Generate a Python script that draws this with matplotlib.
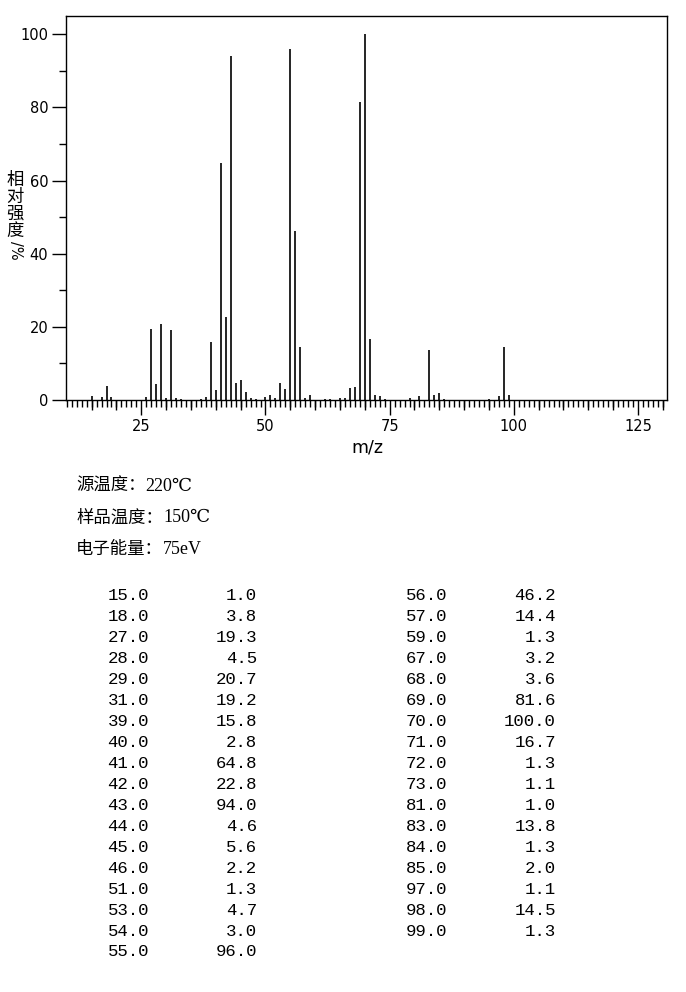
import matplotlib
matplotlib.use("Agg")
import matplotlib.pyplot as plt
from matplotlib.ticker import FixedLocator, MultipleLocator

# ---- data ----
table_mz = [15, 18, 27, 28, 29, 31, 39, 40, 41, 42, 43, 44, 45, 46, 51, 53, 54, 55,
            56, 57, 59, 67, 68, 69, 70, 71, 72, 73, 81, 83, 84, 85, 97, 98, 99]
table_int = [1.0, 3.8, 19.3, 4.5, 20.7, 19.2, 15.8, 2.8, 64.8, 22.8, 94.0, 4.6, 5.6, 2.2,
             1.3, 4.7, 3.0, 96.0, 46.2, 14.4, 1.3, 3.2, 3.6, 81.6, 100.0, 16.7, 1.3, 1.1,
             1.0, 13.8, 1.3, 2.0, 1.1, 14.5, 1.3]
# small peaks (<1 %) visible in the spectrum but not listed
minor_mz = [17, 19, 26, 30, 32, 33, 37, 38, 47, 48, 50, 52, 58, 62, 63, 65, 66, 74, 79, 86, 95]
minor_int = [0.7, 0.8, 0.8, 0.5, 0.5, 0.3, 0.3, 0.8, 0.5, 0.2, 0.7, 0.6, 0.6, 0.3, 0.4,
             0.6, 0.5, 0.3, 0.5, 0.4, 0.4]

x_ticks = [25, 50, 75, 100, 125]
y_ticks = [0, 20, 40, 60, 80, 100]

info_labels = ["源温度：", "样品温度：", "电子能量："]
info_values = ["220℃", "150℃", "75eV"]

ylabel_chars = ["相", "对", "强", "度"]

W, H = 686, 992
fig = plt.figure(figsize=(W / 100, H / 100), dpi=100)

def fx(x):
    return x / W

def fy(y):
    return 1 - y / H

ax = fig.add_axes([fx(66.3), fy(400), fx(667.3) - fx(66.3), fy(16) - fy(400)])
ax.vlines(table_mz + minor_mz, 0, table_int + minor_int, colors="black", linewidth=1.2)
ax.set_xlim(9.9, 130.9)
ax.set_ylim(0, 105)

for s in ax.spines.values():
    s.set_linewidth(1.0)
    s.set_color("black")

ax.xaxis.set_major_locator(FixedLocator(x_ticks))
ax.xaxis.set_minor_locator(MultipleLocator(1))
ax.yaxis.set_major_locator(FixedLocator(y_ticks))
ax.yaxis.set_minor_locator(FixedLocator([10, 30, 50, 70, 90]))
ax.tick_params(axis="x", which="major", length=10.5, width=1.0, direction="out",
               labelsize=10.5, pad=3, colors="black")
ax.tick_params(axis="x", which="minor", length=5, width=1.0, direction="out")
ax.tick_params(axis="y", which="major", length=10, width=1.0, direction="out",
               labelsize=10.5, pad=3)
ax.tick_params(axis="y", which="minor", length=4.7, width=1.0, direction="out")

# medium ticks at multiples of 5
sec = ax.secondary_xaxis(0)
sec.set_xticks([v for v in range(15, 131, 5) if v % 25 != 0])
sec.tick_params(axis="x", length=7, width=1.0, labelbottom=False)
sec.spines["bottom"].set_visible(False)

# axis labels
fig.text(fx(367), fy(448), "m/z", ha="center", va="center", fontsize=12.5,
         family="DejaVu Sans")
for i, ch in enumerate(ylabel_chars):
    fig.text(fx(15), fy(180 + i * 17), ch, ha="center", va="center", fontsize=12.5,
             family="Noto Sans CJK SC")
fig.text(fx(15), fy(250), "/%", ha="center", va="center", fontsize=10.5,
         rotation=-90, family="DejaVu Sans")

# info texts
em = 17.4
for i, (lab, val) in enumerate(zip(info_labels, info_values)):
    y = 486 + i * 31.5
    fig.text(fx(76), fy(y), lab, ha="left", va="center", fontsize=12.5,
             family=["Noto Sans CJK SC"])
    fig.text(fx(76 + len(lab) * em), fy(y), val, ha="left", va="center", fontsize=13,
             family=["Liberation Serif", "DejaVu Serif"])

# peak table
left_n = 18
row0, dy = 596, 20.94
for i, (m, v) in enumerate(zip(table_mz, table_int)):
    if i < left_n:
        xm, xv, r = 149, 257, i
    else:
        xm, xv, r = 447, 556, i - left_n
    y = row0 + r * dy
    fig.text(fx(xm), fy(y), f"{m:.1f}", ha="right", va="center", fontsize=12.5,
             family="Liberation Mono")
    fig.text(fx(xv), fy(y), f"{v:.1f}", ha="right", va="center", fontsize=12.5,
             family="Liberation Mono")

fig.savefig("out.png", dpi=100)
